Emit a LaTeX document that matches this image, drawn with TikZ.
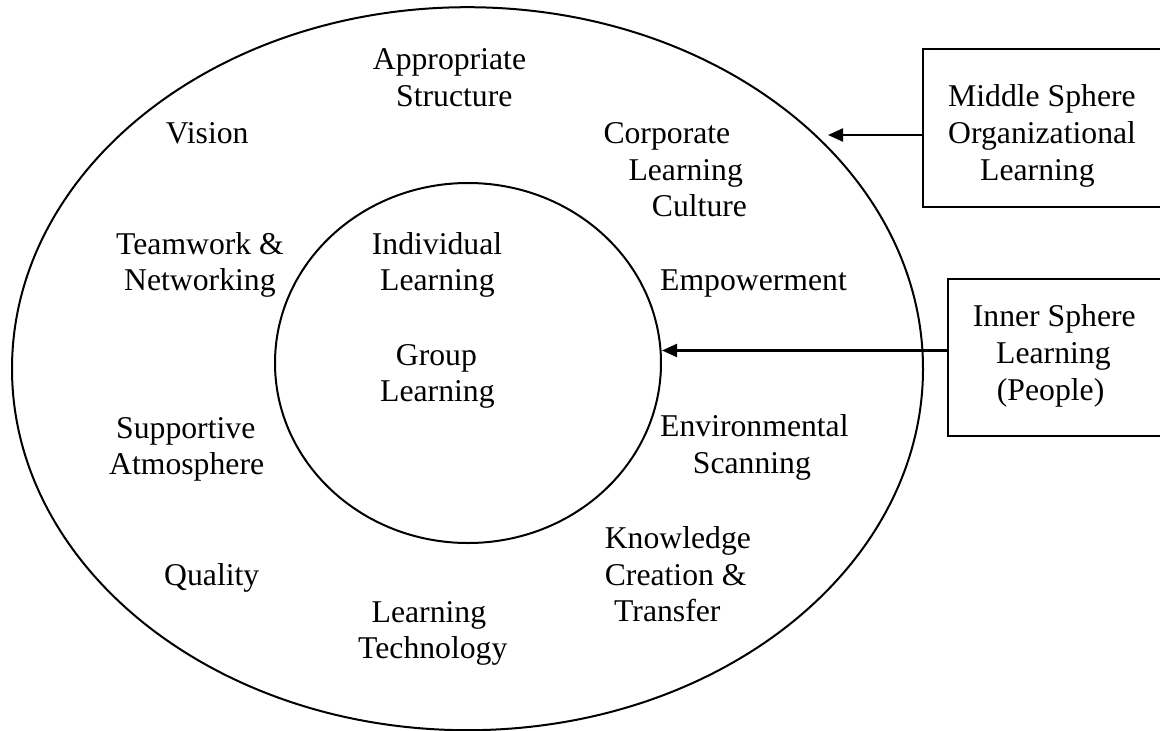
\documentclass[tikz,border=0pt]{standalone}
\usepackage{fontspec}
\setmainfont{Liberation Serif}
\usetikzlibrary{shapes.geometric,arrows.meta}
\newcommand{\mylines}[1]{\begin{tabular}[t]{@{}l@{}}#1\end{tabular}}
\begin{document}
\begin{tikzpicture}[x=1pt,y=-1pt,
  ring/.style={draw, ellipse, line width=2pt, inner sep=0pt},
  lbl/.style={inner sep=0pt, anchor=base west, font=\fontsize{31.7}{36.7}\selectfont},
  boxst/.style={draw, line width=2.2pt, inner sep=0pt},
  arr/.style={line width=2.2pt, -{Triangle[length=15pt,width=13pt]}}]
\useasboundingbox (0,0) rectangle (1160,731);
\clip (0,0) rectangle (1160,731);
% spheres
\node[ring, minimum width=911pt, minimum height=723pt] (outer) at (467.5,368.7) {};
\node[ring, minimum width=386pt, minimum height=360pt] (inner) at (468,363) {};
% labels of the middle sphere
\node[lbl] (appr) at (372.7,69.3) {\mylines{Appropriate\\\hspace*{23.3pt}Structure}};
\node[lbl] (vis) at (165.7,143.5) {Vision};
\node[lbl] (corp) at (603.3,143.3) {\mylines{Corporate\\\hspace*{25pt}Learning\\\hspace*{48.4pt}Culture}};
\node[lbl] (team) at (116,254) {\mylines{Teamwork \&\\\hspace*{8pt}Networking}};
\node[lbl] (emp) at (660,290) {Empowerment};
\node[lbl] (supp) at (109,438) {\mylines{\hspace*{7pt}Supportive\\Atmosphere}};
\node[lbl] (env) at (660,436.7) {\mylines{Environmental\\\hspace*{32.7pt}Scanning}};
\node[lbl] (know) at (604.6,548.3) {\mylines{Knowledge\\Creation \&\\\hspace*{9.4pt}Transfer}};
\node[lbl] (qual) at (164,585) {Quality};
\node[lbl] (ltech) at (358,622) {\mylines{\hspace*{13.5pt}Learning\\Technology}};
% labels of the inner sphere
\node[lbl] (indiv) at (371.7,254) {\mylines{Individual\\\hspace*{8.3pt}Learning}};
\node[lbl] (grp) at (380,365) {\mylines{\hspace*{15.7pt}Group\\Learning}};
% boxes
\node[boxst, minimum width=238pt, minimum height=158pt] (mbox) at (1042,128) {};
\node[boxst, minimum width=214pt, minimum height=157pt] (ibox) at (1055,357.5) {};
\node[lbl] (mtext) at (948,106.7) {\mylines{Middle Sphere\\Organizational\\\hspace*{32pt}Learning}};
\node[lbl] (itext) at (972.7,326.7) {\mylines{Inner Sphere\\\hspace*{23.3pt}Learning\\\hspace*{24pt}(People)}};
% arrows
\coordinate (mtip) at (828,135);
\draw[arr] ([yshift=-7pt]mbox.west) -- (mtip);
\draw[arr] ([yshift=7pt]ibox.west) -- ([yshift=7pt]ibox.west -| inner.east);
\end{tikzpicture}
\end{document}
